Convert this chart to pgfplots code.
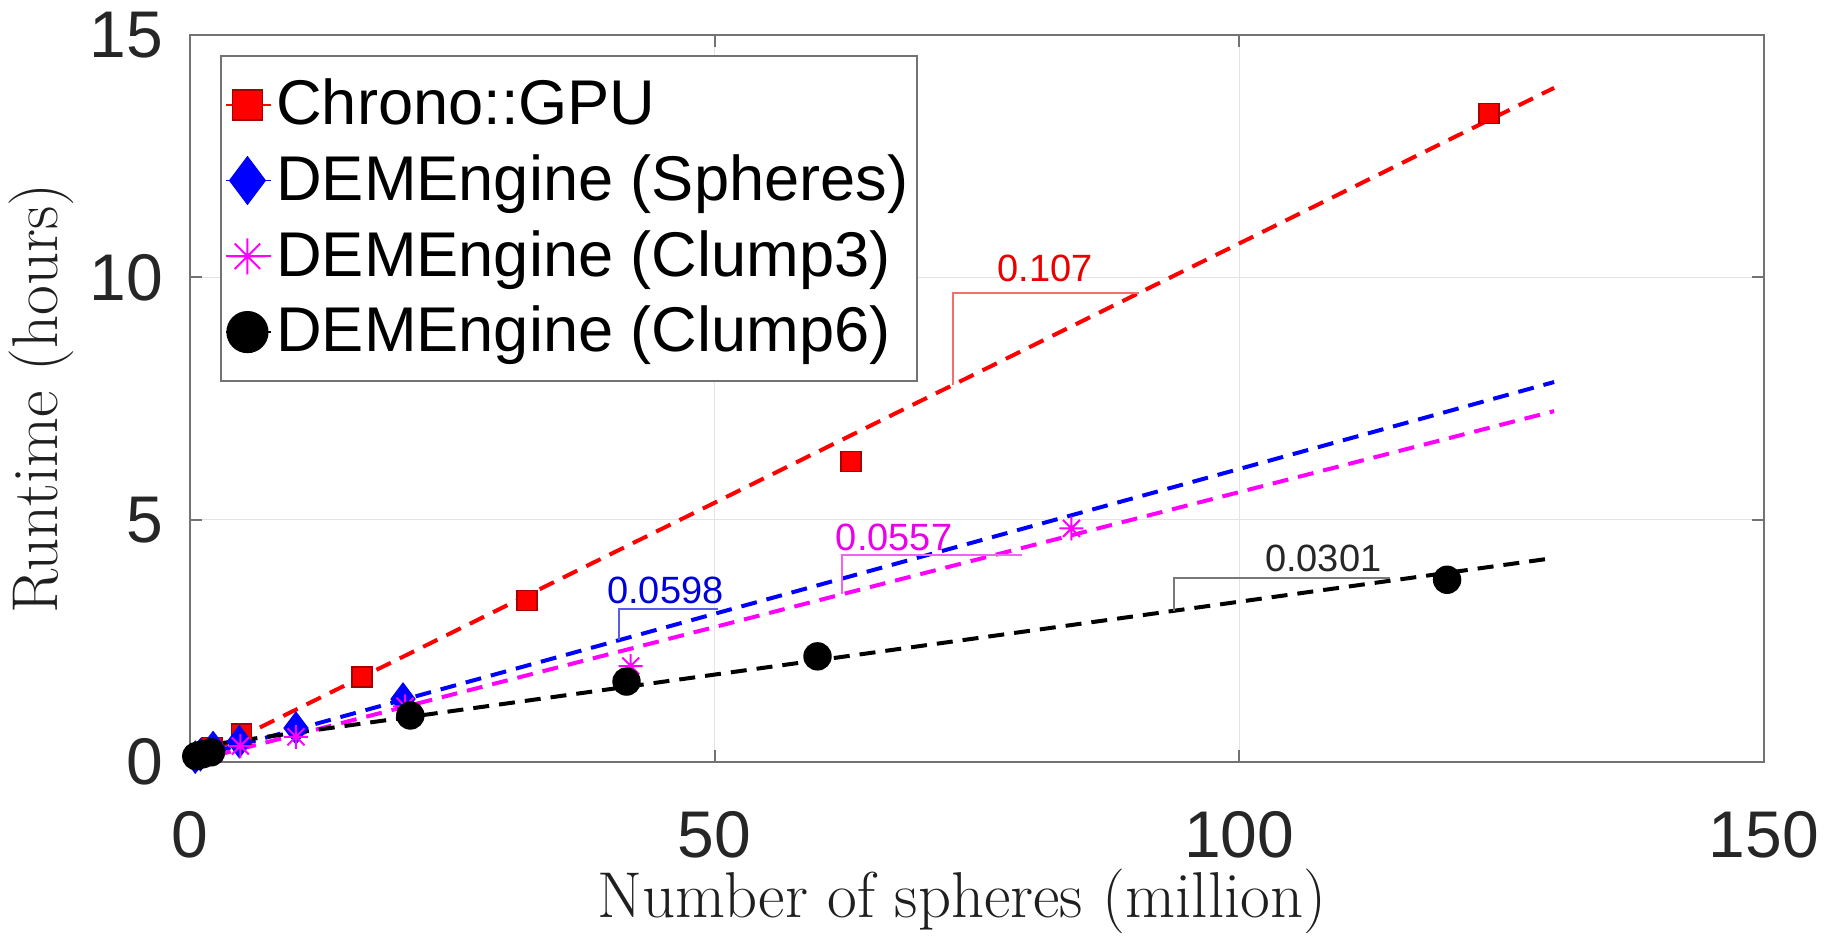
\documentclass[border=0pt]{standalone}
\usepackage{pgfplots}
\pgfplotsset{compat=1.18}
\usepackage{fontspec}
\newfontfamily\arial{Liberation Sans}
\pgfdeclareplotmark{mstar}{%
  \pgfpathmoveto{\pgfqpoint{-\pgfplotmarksize}{0pt}}\pgfpathlineto{\pgfqpoint{\pgfplotmarksize}{0pt}}%
  \pgfpathmoveto{\pgfqpoint{0pt}{-\pgfplotmarksize}}\pgfpathlineto{\pgfqpoint{0pt}{\pgfplotmarksize}}%
  \pgfpathmoveto{\pgfqpoint{-0.707\pgfplotmarksize}{-0.707\pgfplotmarksize}}\pgfpathlineto{\pgfqpoint{0.707\pgfplotmarksize}{0.707\pgfplotmarksize}}%
  \pgfpathmoveto{\pgfqpoint{-0.707\pgfplotmarksize}{0.707\pgfplotmarksize}}\pgfpathlineto{\pgfqpoint{0.707\pgfplotmarksize}{-0.707\pgfplotmarksize}}%
  \pgfusepathqstroke}
\definecolor{mred}{RGB}{255,0,0}
\definecolor{mblue}{RGB}{0,0,255}
\definecolor{mmag}{RGB}{255,0,255}
\definecolor{tri red}{RGB}{245,110,110}
\definecolor{tri blue}{RGB}{90,90,235}
\definecolor{tri mag}{RGB}{240,100,240}
\definecolor{tri gray}{RGB}{120,120,120}
\begin{document}
\begin{tikzpicture}
\useasboundingbox (-47.5pt,-43.25pt) rectangle (410.5pt,190.5pt);
\begin{axis}[
  at={(0pt,0pt)}, anchor=south west,
  scale only axis,
  width=393.5pt, height=181.75pt,
  xmin=0, xmax=150, ymin=0, ymax=15,
  xtick={0,50,100,150}, ytick={0,5,10,15},
  grid=major,
  major grid style={draw=black!11, line width=0.4pt},
  axis line style={draw=black!55, line width=0.6pt},
  tick style={draw=black!55, line width=0.5pt},
  tick align=inside,
  major tick length=3pt,
  /pgf/number format/assume math mode=true,
  ticklabel style={font=\arial\fontsize{16.5}{16.5}\selectfont, text=black!85},
  xticklabel style={anchor=center, yshift=-18.25pt, inner sep=0pt},
  yticklabel style={anchor=east, xshift=-6.5pt, inner sep=0pt},
  xlabel={Number of spheres (million)},
  ylabel={Runtime (hours)},
  label style={font=\fontsize{16.2}{19}\selectfont, text=black!88, inner sep=0pt},
  xlabel style={at={(axis description cs:0.4905,-0.192)}, anchor=center},
  ylabel style={at={(axis description cs:-0.0947,0.5)}, anchor=center},
  clip=false,
  legend cell align=left,
  legend style={at={(0.0191,0.9725)}, anchor=north west, draw=black!55, fill=white,
    line width=0.5pt,
    font=\arial\fontsize{15.8}{18}\selectfont, inner xsep=1pt, inner ysep=4.5pt,
    row sep=3.6pt,
    nodes={inner sep=1.2pt}},
  legend image code/.code={%
    \draw[#1, solid, line width=0.4pt, mark=none] (0pt,0pt) -- (11.2pt,0pt);
    \draw[#1, only marks, mark size=1.5*\pgfplotmarksize] plot coordinates {(5.4pt,0pt)};
  },
]
% fit lines
\addplot[mred, line width=1pt, dash pattern=on 4pt off 2.5pt, forget plot] coordinates {(0,0.0) (130,13.91)};
\addplot[mblue, line width=1pt, dash pattern=on 4pt off 2.5pt, forget plot] coordinates {(0,0.07) (130,7.84)};
\addplot[mmag, line width=1pt, dash pattern=on 4pt off 2.5pt, forget plot] coordinates {(0,0.0) (130,7.24)};
\addplot[black, line width=1pt, dash pattern=on 4pt off 2.5pt, forget plot] coordinates {(0,0.3) (130,4.21)};
% slope triangles
\addplot[tri red, line width=0.5pt, forget plot] coordinates {(72.7,7.78) (72.7,9.67) (90.4,9.67)};
\addplot[tri blue, line width=0.5pt, forget plot] coordinates {(40.9,2.52) (40.9,3.16) (50.3,3.16)};
\addplot[tri mag, line width=0.5pt, forget plot] coordinates {(62.1,3.46) (62.1,4.27) (79.3,4.27)};
\addplot[tri gray, line width=0.5pt, forget plot] coordinates {(93.8,3.12) (93.8,3.80) (114.4,3.80)};
\node[font=\arial\fontsize{9.5}{10}\selectfont, text=mred!92!black] at (axis cs:81.5,10.18) {0.107};
\node[font=\arial\fontsize{9.5}{10}\selectfont, text=mblue!85!black] at (axis cs:45.3,3.54) {0.0598};
\node[font=\arial\fontsize{9.5}{10}\selectfont, text=mmag!92!black] at (axis cs:67.1,4.63) {0.0557};
\node[font=\arial\fontsize{9.5}{10}\selectfont, text=black!85] at (axis cs:108.0,4.2) {0.0301};
% data
\addplot[color=mred, only marks, mark=square*, mark size=2.5pt, mark options={fill=mred, draw=mred!65!black, line width=0.4pt}]
  coordinates {(1.0,0.16) (2.1,0.30) (4.9,0.58) (16.4,1.75) (32.1,3.33) (63.0,6.20) (123.8,13.38)};
\addlegendentry{Chrono::GPU}
\addplot[color=mblue, only marks, mark=diamond*, mark size=3.9pt, mark options={fill=mblue, draw=mblue, line width=0.4pt}]
  coordinates {(0.5,0.10) (1.0,0.15) (2.2,0.30) (4.7,0.42) (10.1,0.70) (20.3,1.30)};
\addlegendentry{DEMEngine (Spheres)}
\addplot[color=mmag, only marks, mark=mstar, mark size=3.0pt, mark options={draw=mmag, line width=0.5pt}]
  coordinates {(0.6,0.08) (1.1,0.12) (2.3,0.20) (4.8,0.33) (10.1,0.52) (20.5,1.15) (42.0,1.98) (84.0,4.82)};
\addlegendentry{DEMEngine (Clump3)}
\addplot[color=black, only marks, mark=*, mark size=3.35pt, mark options={fill=black, draw=black}]
  coordinates {(0.6,0.12) (1.2,0.16) (2.0,0.20) (21.0,0.96) (41.6,1.66) (59.8,2.18) (119.8,3.76)};
\addlegendentry{DEMEngine (Clump6)}
\end{axis}
\end{tikzpicture}
\end{document}
